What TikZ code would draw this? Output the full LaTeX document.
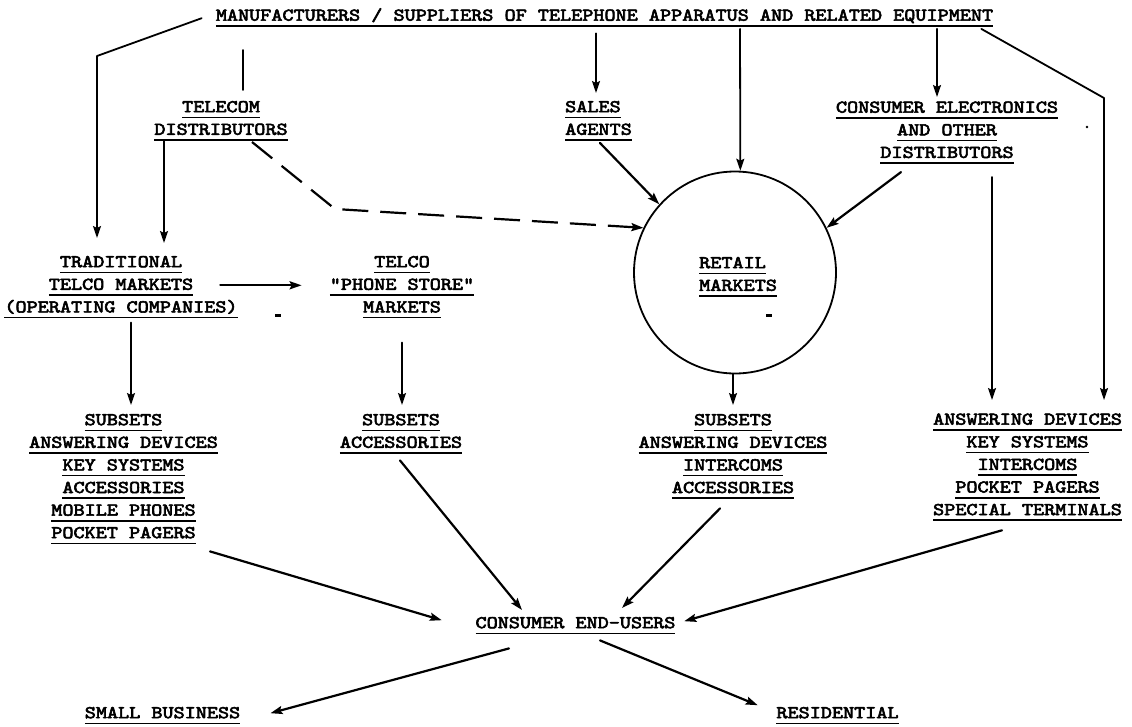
\documentclass[tikz,border=0pt]{standalone}
\usepackage{fontspec}
\setmonofont{lmmono10-regular.otf}[FakeBold=3]
\usepackage{graphicx}
\usetikzlibrary{arrows.meta}
\newcommand\ul[1]{\setbox0\hbox{\scalebox{1.175}[1]{#1}}\setbox2\hbox to\wd0{\rlap{\rule[-6pt]{\wd0}{1.7pt}}\box0\hss}\ht2=13pt \dp2=8pt \box2}
\tikzset{
  lbl/.style={font=\ttfamily\fontsize{18}{22.6}\selectfont, inner sep=0pt, align=center, anchor=north},
  lbll/.style={lbl, align=left, anchor=north west},
  ln/.style={line width=1.8pt, line cap=round, line join=round},
  arr/.style={ln, -{Stealth[length=12pt,width=8pt,inset=2pt]}},
  darr/.style={arr, line width=2.2pt},
  dsh/.style={darr, line cap=butt, dash pattern=on 26pt off 12pt},
}
\begin{document}
\begin{tikzpicture}[x=1pt,y=-1pt]
\fill[white] (0,0) rectangle (1132,726);
\useasboundingbox (0,0) rectangle (1132,726);

% text nodes
\node[lbl] (top) at (604.5,7.5) {\ul{MANUFACTURERS / SUPPLIERS OF TELEPHONE APPARATUS AND RELATED EQUIPMENT}};
\node[lbl] (tdist) at (221,99) {\ul{TELECOM}\\\ul{DISTRIBUTORS}};
\node[lbll] (sales) at (565,99) {\ul{SALES}\\\ul{AGENTS}};
\node[lbl] (ce) at (947,99.5) {\ul{CONSUMER ELECTRONICS}\\\ul{AND OTHER}\\\ul{DISTRIBUTORS}};
\node[lbl] (trad) at (121,254) {\ul{TRADITIONAL}\\\ul{TELCO MARKETS}\\\ul{(OPERATING COMPANIES)}};
\node[lbl] (phone) at (402,254) {\ul{TELCO}\\\ul{"PHONE STORE"}\\\ul{MARKETS}};
\node[circle, draw, line width=1.8pt, minimum size=202pt, inner sep=0pt] (retail) at (735,272.5) {};
\node[lbll] (retailtxt) at (699,255) {\ul{RETAIL}\\\ul{MARKETS}};
\node[lbl] (llist) at (123.5,412) {\ul{SUBSETS}\\\ul{ANSWERING DEVICES}\\\ul{KEY SYSTEMS}\\\ul{ACCESSORIES}\\\ul{MOBILE PHONES}\\\ul{POCKET PAGERS}};
\node[lbl] (mlist) at (401,412) {\ul{SUBSETS}\\\ul{ACCESSORIES}};
\node[lbl] (rlist) at (733,412) {\ul{SUBSETS}\\\ul{ANSWERING DEVICES}\\\ul{INTERCOMS}\\\ul{ACCESSORIES}};
\node[lbl] (rtlist) at (1027.5,411.5) {\ul{ANSWERING DEVICES}\\\ul{KEY SYSTEMS}\\\ul{INTERCOMS}\\\ul{POCKET PAGERS}\\\ul{SPECIAL TERMINALS}};
\node[lbl] (cons) at (575.5,615) {\ul{CONSUMER END-USERS}};
\node[lbl] (small) at (162.5,705) {\ul{SMALL BUSINESS}};
\node[lbl] (resi) at (837.5,705) {\ul{RESIDENTIAL}};

% connectors from the top
\draw[arr] ([xshift=-14pt]top.west) -- (97,56) -- ([xshift=-24pt,yshift=16pt]trad.north);
\draw[ln] (243,50) -- ([xshift=22pt,yshift=9pt]tdist.north);
\draw[arr] ([xshift=-8.5pt,yshift=-4.5pt]top.south) -- ([xshift=31pt,yshift=6pt]sales.north west);
\draw[arr] ([xshift=135.5pt]top.south) -- (retail.87);
\draw[arr] ([xshift=332.5pt]top.south) -- ([xshift=-10pt,yshift=2.5pt]ce.north);
\draw[arr] ([xshift=-12pt]top.south east) -- (1104,98) -- ([xshift=76.5pt,yshift=11.5pt]rtlist.north);

% distributors / agents
\draw[arr] ([xshift=-57pt,yshift=2pt]tdist.south) -- ([xshift=43pt,yshift=11pt]trad.north);
\draw[dsh] ([xshift=31pt,yshift=1pt]tdist.south) -- (335,209) -- (retail.154);
\draw[darr] ([xshift=35pt]sales.south west) -- (retail.138);
\draw[darr] ([xshift=-46pt,yshift=-6pt]ce.south) -- (retail.26);
\draw[arr] ([xshift=45pt,yshift=-11pt]ce.south) -- ([xshift=-35.5pt,yshift=11.5pt]rtlist.north);

% markets to product lists
\draw[darr] ([xshift=-17.5pt,yshift=2pt]trad.east) -- ([xshift=-28pt,yshift=2pt]phone.west);
\draw[arr] ([xshift=10pt,yshift=-2pt]trad.south) -- ([xshift=7.5pt,yshift=7pt]llist.north);
\draw[arr] ([yshift=-22pt]phone.south) -- ([xshift=1pt,yshift=7pt]mlist.north);
\draw[arr] ([xshift=-2pt]retail.south) -- ([yshift=7pt]rlist.north);

% product lists to consumers
\draw[darr] ([xshift=86.5pt,yshift=-5pt]llist.south) -- ([xshift=-33.6pt,yshift=5.5pt]cons.west);
\draw[darr] ([xshift=-1pt,yshift=-4.4pt]mlist.south) -- ([xshift=-53.5pt,yshift=5pt]cons.north);
\draw[darr] ([xshift=-13pt,yshift=-7.2pt]rlist.south) -- ([xshift=46.5pt,yshift=7pt]cons.north);
\draw[darr] ([xshift=-25.5pt,yshift=-7pt]rtlist.south) -- ([xshift=8.6pt,yshift=4.5pt]cons.east);

% consumers to segments
\draw[darr] ([xshift=-66.5pt,yshift=-12pt]cons.south) -- ([xshift=30pt,yshift=2.5pt]small.east);
\draw[darr] ([xshift=24.5pt,yshift=-4pt]cons.south) -- ([xshift=-18.5pt,yshift=10.5pt]resi.west);

% stray marks
\fill (275,314) rectangle (281,316.5);
\fill (766,314) rectangle (772,316.5);
\fill (1087,127) circle (1.3pt);
\end{tikzpicture}
\end{document}
